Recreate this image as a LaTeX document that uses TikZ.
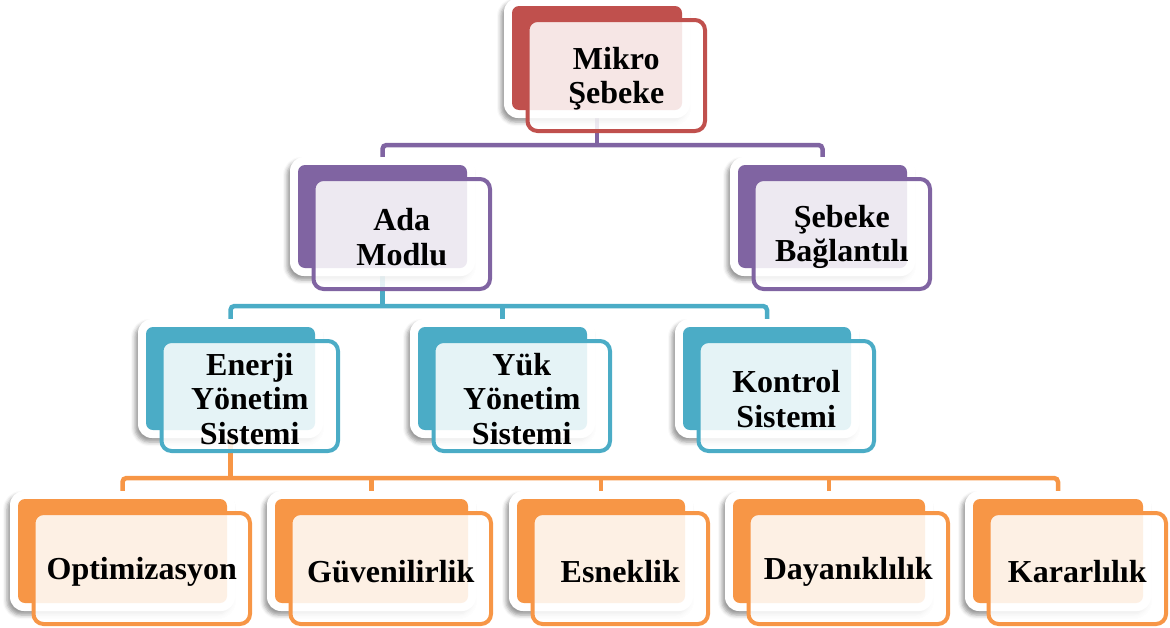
\documentclass[tikz,border=0pt]{standalone}
\usepackage{fontspec}
\setmainfont{Liberation Serif}
\usetikzlibrary{shadows.blur,backgrounds}

\definecolor{cRed}{HTML}{C0504D}
\definecolor{cPurple}{HTML}{8064A2}
\definecolor{cBlue}{HTML}{4BACC6}
\definecolor{cOrange}{HTML}{F79646}

\tikzset{
  padbox/.style={fill=white, rounded corners=14,
    blur shadow={shadow xshift=-3pt, shadow yshift=-4pt,
                 shadow blur radius=4pt, shadow opacity=40}},
  backbox/.style={rectangle, fill=#1, rounded corners=7, inner sep=0pt},
  frontbox/.style={rectangle, draw=#1, line width=4pt, fill=white,
    fill opacity=0.86, rounded corners=10, inner sep=0pt},
  boxtext/.style={inner sep=0pt, align=center,
    font=\fontsize{32}{34.5}\selectfont\bfseries},
  conn/.style={draw=#1, line width=4.5pt, rounded corners=4}
}

% name, colour, back x1, x2, y1, y2, label
\newcommand\pairbox[7]{%
  \pgfmathsetmacro\bcx{(#3+#4)/2}%
  \pgfmathsetmacro\bcy{(#5+#6)/2}%
  \pgfmathsetmacro\bw{#4-#3}%
  \pgfmathsetmacro\bh{#6-#5}%
  \path[padbox] (#3-8,#5-8) rectangle (#4+8,#6+8);
  \node[backbox=#2, minimum width=\bw, minimum height=\bh] (#1B) at (\bcx,\bcy) {};
  \node[frontbox=#2, minimum width=\bw+7.5, minimum height=\bh+7] (#1)
    at (\bcx+19.25,\bcy+17.5) {};
  \node[boxtext] (#1T) at (\bcx+19.25,\bcy+20.5) {#7};
}

\begin{document}
\begin{tikzpicture}[x=1pt,y=-1pt]
\useasboundingbox (0,0) rectangle (1170,627);

% top level
\pairbox{mikro}{cRed}{512}{682}{6}{110}{Mikro\\Şebeke}
% second level
\pairbox{ada}{cPurple}{298}{467}{165}{268}{Ada\\Modlu}
\pairbox{seb}{cPurple}{738}{907}{165}{268}{Şebeke\\Bağlantılı}
% third level
\pairbox{enerji}{cBlue}{146}{315}{327}{430}{Enerji\\Yönetim\\Sistemi}
\pairbox{yuk}{cBlue}{418}{587}{327}{430}{Yük\\Yönetim\\Sistemi}
\pairbox{kontrol}{cBlue}{683}{851}{327}{430}{Kontrol\\Sistemi}
% fourth level
\pairbox{opt}{cOrange}{18}{227}{499}{603}{Optimizasyon}
\pairbox{guv}{cOrange}{275}{468}{499}{603}{Güvenilirlik}
\pairbox{esn}{cOrange}{517}{685}{499}{603}{Esneklik}
\pairbox{day}{cOrange}{733}{925}{499}{603}{Dayanıklılık}
\pairbox{kar}{cOrange}{973}{1143}{499}{603}{Kararlılık}

% connectors run underneath the boxes
\begin{scope}[on background layer]
  \coordinate (bus1) at (mikroB.south |- 0,145);
  \coordinate (bus2) at (adaB.south |- 0,306);
  \coordinate (bus3) at (enerjiB.south |- 0,478);

  \draw[conn=cPurple] (mikroB.south) -- (bus1);
  \draw[conn=cPurple] (adaB.north) |- (bus1) -| (sebB.north);

  \draw[conn=cBlue] (adaB.south) -- (bus2);
  \draw[conn=cBlue] (enerjiB.north) |- (bus2) -| (kontrolB.north);
  \draw[conn=cBlue] (yukB.north) -- (yukB.north |- bus2);

  \draw[conn=cOrange] (enerjiB.south) -- (bus3);
  \draw[conn=cOrange] (optB.north) |- (bus3) -| (karB.north);
  \draw[conn=cOrange] (guvB.north) -- (guvB.north |- bus3);
  \draw[conn=cOrange] (esnB.north) -- (esnB.north |- bus3);
  \draw[conn=cOrange] (dayB.north) -- (dayB.north |- bus3);
\end{scope}
\end{tikzpicture}
\end{document}
